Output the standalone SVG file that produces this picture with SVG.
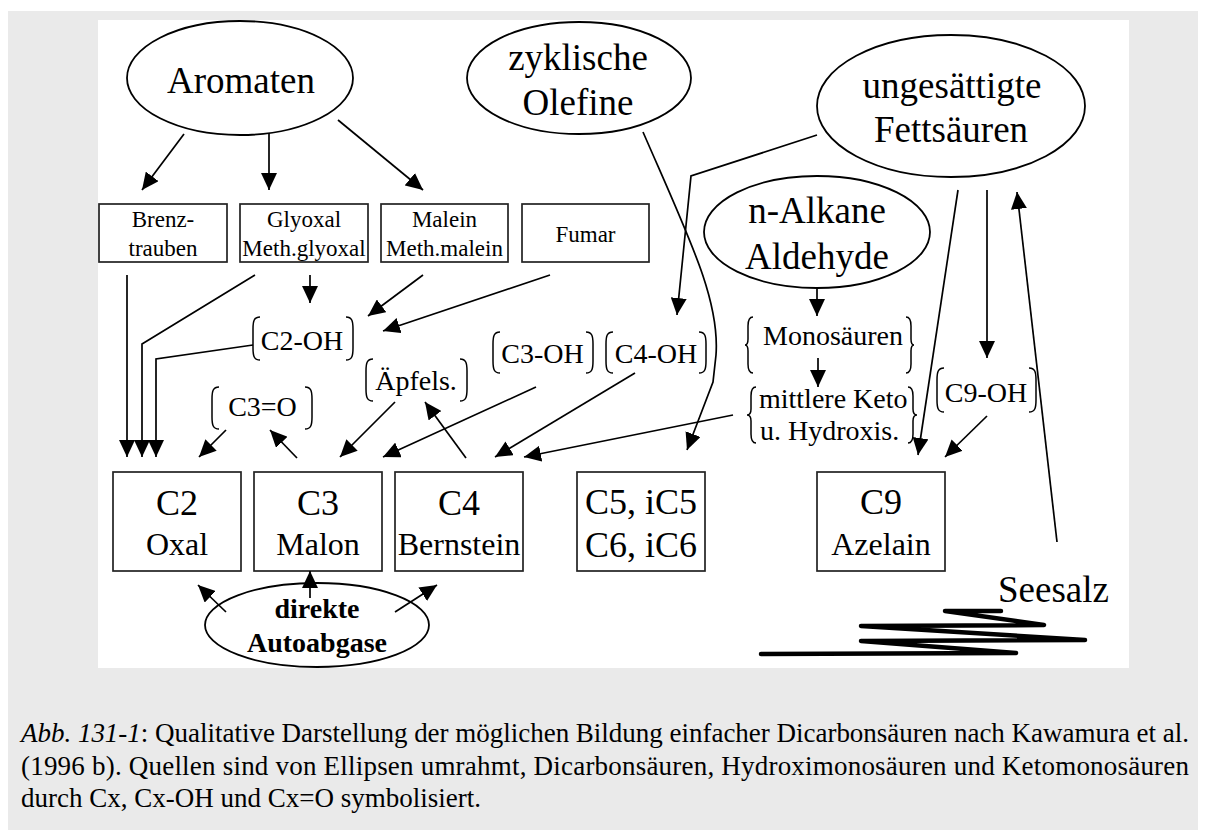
<svg xmlns="http://www.w3.org/2000/svg" width="1206" height="834" viewBox="0 0 1206 834" font-family="'Liberation Serif', 'Times New Roman', Times, serif">
  <defs>
    <marker id="arrow" markerUnits="userSpaceOnUse" markerWidth="18" markerHeight="16" refX="17" refY="8" orient="auto">
      <path d="M0,0 L17,8 L0,16 z" fill="#000"/>
    </marker>
    <style>
      .src { fill: #fff; stroke: #000; stroke-width: 1.8; }
      .box { fill: #fff; stroke: #222; stroke-width: 1.7; }
      .br { fill: none; stroke: #000; stroke-width: 1.5; }
      .con path, .con line, .con polyline { fill: none; stroke: #000; stroke-width: 1.7; marker-end: url(#arrow); }
      .big { font-size: 37px; }
      .c { font-size: 36px; }
      .nm { font-size: 32px; }
      .sm { font-size: 23px; }
      .lb { font-size: 28px; }
      .cap { font-size: 27px; }
      .mid { text-anchor: middle; }
    </style>
  </defs>

  <!-- page background -->
  <rect x="0" y="0" width="1206" height="834" fill="#fff"/>
  <rect x="8" y="11" width="1190" height="819" fill="#eaeaea"/>
  <rect x="98" y="20" width="1031" height="648" fill="#fff"/>

  <!-- sources (ellipses) -->
  <g id="aromaten">
    <ellipse class="src" cx="240" cy="78" rx="113" ry="57"/>
    <text class="big mid" x="241" y="93">Aromaten</text>
  </g>
  <g id="zyklische-olefine">
    <ellipse class="src" cx="579" cy="78" rx="112" ry="56"/>
    <text class="big mid" x="578" y="70">zyklische</text>
    <text class="big mid" x="578" y="115">Olefine</text>
  </g>
  <g id="ungesaettigte-fettsaeuren">
    <ellipse class="src" cx="951" cy="106" rx="134" ry="71"/>
    <text class="big mid" x="952" y="98">ungesättigte</text>
    <text class="big mid" x="951" y="142">Fettsäuren</text>
  </g>
  <g id="n-alkane">
    <ellipse class="src" cx="817" cy="232" rx="113" ry="56"/>
    <text class="big mid" x="817" y="223">n-Alkane</text>
    <text class="big mid" x="817" y="269">Aldehyde</text>
  </g>
  <g id="autoabgase">
    <ellipse class="src" cx="317" cy="625" rx="112" ry="42"/>
    <text class="mid" x="317" y="618" font-size="28" font-weight="bold">direkte</text>
    <text class="mid" x="317" y="652" font-size="28" font-weight="bold">Autoabgase</text>
  </g>

  <!-- intermediate boxes -->
  <g id="brenztrauben">
    <rect class="box" x="99" y="204" width="128" height="58"/>
    <text class="sm mid" x="163" y="227">Brenz-</text>
    <text class="sm mid" x="163" y="256">trauben</text>
  </g>
  <g id="glyoxal">
    <rect class="box" x="240" y="204" width="128" height="58"/>
    <text class="sm mid" x="304" y="227">Glyoxal</text>
    <text class="sm mid" x="304" y="256">Meth.glyoxal</text>
  </g>
  <g id="malein">
    <rect class="box" x="381" y="204" width="127" height="58"/>
    <text class="sm mid" x="444.5" y="227">Malein</text>
    <text class="sm mid" x="444.5" y="256">Meth.malein</text>
  </g>
  <g id="fumar">
    <rect class="box" x="522" y="204" width="127" height="58"/>
    <text class="sm mid" x="585.5" y="242">Fumar</text>
  </g>

  <!-- hydroxy / keto acids in brackets -->
  <g id="c2-oh">
    <path class="br" d="M260,317 C254,317 253,321 253,329 L253,348 C253,356 254,360 260,360"/>
    <path class="br" d="M346,317 C352,317 353,321 353,329 L353,348 C353,356 352,360 346,360"/>
    <text class="lb mid" x="302" y="350">C2-OH</text>
  </g>
  <g id="c3-o">
    <path class="br" d="M219,387 C213,387 212,391 212,399 L212,417 C212,425 213,429 219,429"/>
    <path class="br" d="M305,387 C311,387 312,391 312,399 L312,417 C312,425 311,429 305,429"/>
    <text class="lb mid" x="262.5" y="416">C3=O</text>
  </g>
  <g id="aepfels">
    <path class="br" d="M373,359 C367,359 366,363 366,371 L366,389 C366,397 367,401 373,401"/>
    <path class="br" d="M460,359 C466,359 467,363 467,371 L467,389 C467,397 466,401 460,401"/>
    <text class="lb mid" x="416" y="390">Äpfels.</text>
  </g>
  <g id="c3-oh">
    <path class="br" d="M500,332 C494,332 493,336 493,344 L493,361 C493,369 494,373 500,373"/>
    <path class="br" d="M586,332 C592,332 593,336 593,344 L593,361 C593,369 592,373 586,373"/>
    <text class="lb mid" x="542.5" y="363">C3-OH</text>
  </g>
  <g id="c4-oh">
    <path class="br" d="M613,332 C607,332 606,336 606,344 L606,361 C606,369 607,373 613,373"/>
    <path class="br" d="M699,332 C705,332 706,336 706,344 L706,361 C706,369 705,373 699,373"/>
    <text class="lb mid" x="656" y="363">C4-OH</text>
  </g>
  <g id="monosaeuren">
    <path class="br" d="M753,317 C749,317 748,320 748,326 L748,339 C748,343 747,345 745,345 C747,345 748,347 748,351 L748,364 C748,370 749,373 753,373"/>
    <path class="br" d="M906,317 C910,317 911,320 911,326 L911,339 C911,343 912,345 914,345 C912,345 911,347 911,351 L911,364 C911,370 910,373 906,373"/>
    <text class="lb mid" x="833" y="345">Monosäuren</text>
  </g>
  <g id="mittlere-keto">
    <path class="br" d="M756,387 C752,387 751,390 751,396 L751,409 C751,413 750,415 747,415 C750,415 751,417 751,421 L751,434 C751,440 752,443 756,443"/>
    <path class="br" d="M908,387 C912,387 913,390 913,396 L913,409 C913,413 914,415 917,415 C914,415 913,417 913,421 L913,434 C913,440 912,443 908,443"/>
    <text class="lb" x="759" y="408">mittlere Keto</text>
    <text class="lb" x="760" y="440">u. Hydroxis.</text>
  </g>
  <g id="c9-oh">
    <path class="br" d="M944,368 C938,368 937,372 937,380 L937,400 C937,408 938,412 944,412"/>
    <path class="br" d="M1029,368 C1035,368 1036,372 1036,380 L1036,400 C1036,408 1035,412 1029,412"/>
    <text class="lb mid" x="986" y="402">C9-OH</text>
  </g>

  <!-- dicarboxylic acids -->
  <g id="c2">
    <rect class="box" x="113" y="472" width="128" height="99"/>
    <text class="c mid" x="177" y="515">C2</text>
    <text class="nm mid" x="177" y="555">Oxal</text>
  </g>
  <g id="c3">
    <rect class="box" x="254" y="472" width="128" height="99"/>
    <text class="c mid" x="318" y="515">C3</text>
    <text class="nm mid" x="318" y="555">Malon</text>
  </g>
  <g id="c4">
    <rect class="box" x="395" y="472" width="128" height="99"/>
    <text class="c mid" x="459" y="515">C4</text>
    <text class="nm mid" x="459" y="555">Bernstein</text>
  </g>
  <g id="c5-c6">
    <rect class="box" x="577" y="472" width="128" height="99"/>
    <text class="c mid" x="641" y="514">C5, iC5</text>
    <text class="c mid" x="641" y="557">C6, iC6</text>
  </g>
  <g id="c9">
    <rect class="box" x="817" y="472" width="128" height="99"/>
    <text class="c mid" x="881" y="514">C9</text>
    <text class="nm mid" x="881" y="555">Azelain</text>
  </g>

  <!-- sea salt -->
  <g id="seesalz">
    <text class="big" x="998" y="602">Seesalz</text>
    <path d="M1001,611 L945,611 L1044,625 L861,626 L1085,640 L861,641 L1016,653 L761,654" fill="none" stroke="#000" stroke-width="4.5" stroke-linejoin="round" stroke-linecap="round"/>
  </g>

  <!-- connectors -->
  <g id="connectors" class="con">
    <line x1="184" y1="134" x2="142" y2="190"/>
    <line x1="269" y1="133" x2="269" y2="190"/>
    <line x1="338" y1="120" x2="423" y2="190"/>
    <line x1="127" y1="275" x2="127" y2="457"/>
    <polyline points="255,275 142,344 142,457"/>
    <polyline points="253,345 156,359 156,457"/>
    <line x1="310" y1="275" x2="310" y2="303"/>
    <line x1="423" y1="275" x2="368" y2="316"/>
    <line x1="550" y1="275" x2="383" y2="331"/>
    <path d="M643,132 C690,240 720,300 716,355 L713,382 L687,450"/>
    <polyline points="817,135 691,176 677,315"/>
    <line x1="817" y1="289" x2="817" y2="316"/>
    <line x1="818" y1="358" x2="818" y2="387"/>
    <line x1="733" y1="415" x2="524" y2="457"/>
    <line x1="958" y1="190" x2="918" y2="455"/>
    <line x1="987" y1="190" x2="987" y2="358"/>
    <line x1="987" y1="416" x2="945" y2="457"/>
    <line x1="1057" y1="542" x2="1017" y2="192"/>
    <line x1="297" y1="458" x2="270" y2="430"/>
    <line x1="226" y1="430" x2="199" y2="457"/>
    <line x1="395" y1="402" x2="340" y2="457"/>
    <line x1="466" y1="458" x2="425" y2="402"/>
    <line x1="536" y1="387" x2="383" y2="457"/>
    <line x1="635" y1="373" x2="495" y2="457"/>
    <line x1="226" y1="612" x2="198" y2="585"/>
    <line x1="310" y1="598" x2="310" y2="571"/>
    <line x1="395" y1="612" x2="437" y2="585"/>
  </g>

  <!-- caption -->
  <g id="caption">
    <text class="cap" x="21" y="742" textLength="1168" lengthAdjust="spacing"><tspan font-style="italic">Abb. 131-1</tspan>: Qualitative Darstellung der möglichen Bildung einfacher Dicarbonsäuren nach Kawamura et al.</text>
    <text class="cap" x="21" y="775" textLength="1168" lengthAdjust="spacing">(1996 b). Quellen sind von Ellipsen umrahmt, Dicarbonsäuren, Hydroximonosäuren und Ketomonosäuren</text>
    <text class="cap" x="21" y="807">durch Cx, Cx-OH und Cx=O symbolisiert.</text>
  </g>
</svg>
